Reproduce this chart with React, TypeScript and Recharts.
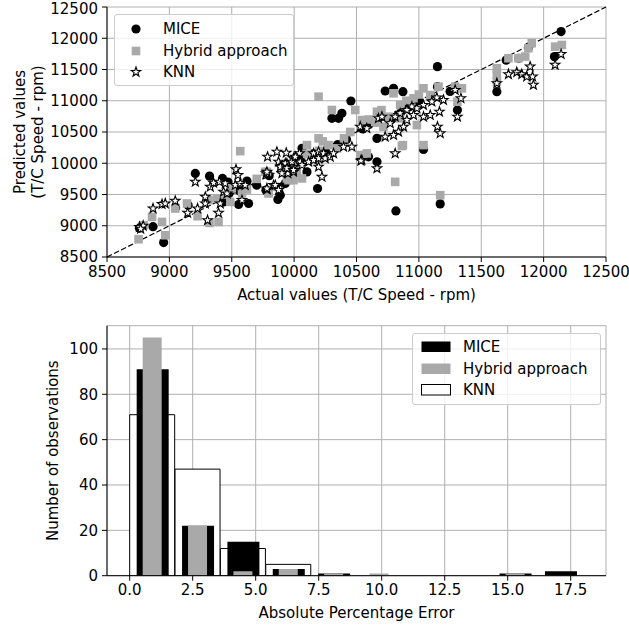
import React from "react";
import {
  ScatterChart,
  Scatter,
  BarChart,
  Bar,
  XAxis,
  YAxis,
  CartesianGrid,
  ReferenceLine,
  Legend,
  Label,
} from "recharts";

const FONT = "'DejaVu Sans', sans-serif";
const GRID = "#b0b0b0";
const GRAY = "#a9a9a9";

const seriesNames = ["MICE", "Hybrid approach", "KNN"];

// scatter points: [actual, predicted] (T/C speed, rpm)
const micePoints = [
  [8760, 8960], [8869, 8985], [8954, 8731], [9050, 9290], [9150, 9330],
  [9208, 9837], [9322, 9794], [9426, 9757], [9470, 9700], [9622, 9714],
  [9434, 9382], [9480, 9520], [9555, 9340], [9635, 9356], [9560, 9560],
  [9774, 9569], [9870, 9420], [9889, 9489], [9929, 9677], [9960, 9760],
  [9800, 9800], [9700, 9650], [9900, 9950], [10000, 9950], [10050, 10050],
  [10063, 10238], [10103, 9862], [10188, 9596], [10150, 10150], [10250, 10200],
  [10303, 10719], [10356, 10719], [10383, 10799], [10455, 10996], [10350, 10300],
  [10420, 10380], [10550, 10550], [10596, 10103], [10664, 10023], [10664, 10398],
  [10600, 10620], [10700, 10750], [10730, 11156], [10797, 11199], [10872, 11145],
  [10780, 10700], [10850, 10800], [10920, 10900], [11000, 11000], [11037, 10222],
  [11100, 11050], [11149, 11546], [11149, 11225], [11250, 11150], [11309, 10852],
  [10816, 9237], [11171, 9350], [11625, 11145], [11700, 11650], [11800, 11680],
  [11880, 11860], [12087, 11706], [12140, 12107],
];

const hybridPoints = [
  [8753, 8784], [8793, 9008], [8861, 9141], [8941, 9061], [8967, 8848],
  [9047, 9276], [9141, 9356], [9226, 9152], [9322, 9045], [9394, 9061],
  [9314, 9409], [9381, 9436], [9488, 9382], [9568, 10194], [9582, 9516],
  [9622, 9580], [9500, 9600], [9450, 9500], [9768, 9862], [9795, 9516],
  [9849, 9622], [9942, 9757], [9995, 9729], [10063, 9757], [9782, 9862],
  [9955, 9729], [9795, 9542], [9995, 10050], [10143, 10103], [10022, 9862],
  [10196, 11065], [10303, 10852], [10490, 10852], [10664, 10824], [10543, 10691],
  [10196, 10398], [10276, 10290], [10103, 10290], [10343, 10238], [10530, 10130],
  [10583, 10157], [10200, 10200], [10230, 10350], [10400, 10400], [10450, 10500],
  [10600, 10700], [10650, 10650], [10700, 10850], [10797, 11119], [11037, 11199],
  [11157, 11225], [11291, 11225], [11345, 11199], [10850, 10932], [10984, 10611],
  [10716, 10584], [11309, 10985], [10872, 10290], [11037, 10290], [10864, 10275],
  [10551, 10130], [10810, 9702], [11171, 9489], [10957, 11039], [11091, 11092],
  [10756, 10744], [10850, 10719], [10900, 11000], [11000, 11100], [11625, 11520],
  [11625, 11413], [11625, 11305], [11718, 11680], [11798, 11680], [11852, 11706],
  [11878, 11840], [11905, 11920], [12092, 11866], [12146, 11893], [9900, 9900],
  [10000, 10000], [10100, 10150], [9700, 9750],
];

const knnPoints = [
  [8760, 8980], [8790, 9000], [8770, 8950], [8869, 9276], [8941, 9345],
  [8967, 9356], [9047, 9398], [9146, 9205], [9208, 9702], [9226, 9276],
  [9288, 9356], [9288, 9462], [9306, 9088], [9328, 9622], [9354, 9686],
  [9394, 9205], [9408, 9356], [9402, 9702], [9434, 9542], [9448, 9677],
  [9462, 9516], [9534, 9901], [9550, 9810], [9528, 9649], [9568, 9677],
  [9582, 9409], [9608, 9649], [9787, 10103], [9862, 10183], [9776, 9837],
  [9782, 9580], [9835, 9649], [9889, 9596], [9937, 10167], [9942, 9997],
  [9950, 9837], [9995, 10077], [9995, 9943], [9995, 9862], [10043, 10157],
  [9875, 10023], [9929, 9997], [9982, 10023], [10009, 10103], [9889, 9943],
  [9942, 9917], [9995, 9890], [9902, 9837], [10049, 10023], [10063, 9970],
  [10116, 10023], [10156, 10157], [10196, 10183], [10236, 10157], [10156, 10050],
  [10196, 10077], [10249, 10077], [10289, 10103], [10316, 10157], [10196, 9943],
  [10223, 9782], [10396, 10263], [10463, 10263], [10543, 10050], [10664, 9917],
  [10676, 10719], [10530, 10584], [10583, 10558], [9782, 9862], [9782, 9596],
  [9849, 9649], [9875, 9569], [11291, 11172], [11337, 11039], [11309, 10744],
  [11197, 11012], [11144, 11049], [11104, 10985], [11165, 10824], [11037, 10932],
  [10984, 10879], [10944, 10905], [10904, 10852], [10850, 10799], [10810, 10744],
  [10704, 10744], [10957, 10771], [11037, 10744], [11091, 10771], [10904, 10691],
  [10770, 10639], [10877, 10584], [10837, 10504], [10797, 10451], [10730, 10424],
  [11149, 10584], [11171, 10478], [10810, 10157], [10535, 10040], [11625, 11280],
  [11718, 11424], [11785, 11456], [11825, 11424], [11865, 11386], [11892, 11546],
  [11911, 11386], [11918, 11253], [12092, 11573], [12140, 11745],
];

const scatterTicks = [8500, 9000, 9500, 10000, 10500, 11000, 11500, 12000, 12500];

// histogram of absolute percentage error, bins of 1.8
const binCenters = [0.9, 2.7, 4.5, 6.3, 8.1, 9.9, 11.7, 13.5, 15.3, 17.1];
const miceCounts = [91, 22, 15, 3, 1, 0, 0, 0, 1, 2];
const hybridCounts = [105, 22, 2, 3, 1, 1, 0, 0, 1, 0];
const knnCounts = [71, 47, 12, 5, 0, 0, 0, 0, 0, 0];
const errTicks = [0, 2.5, 5, 7.5, 10, 12.5, 15, 17.5];
const countTicks = [0, 20, 40, 60, 80, 100];

const toXY = (pts: number[][]) => pts.map(([x, y]) => ({ x, y }));
const histData = binCenters.map((bin, i) => ({
  bin,
  mice: miceCounts[i],
  hybrid: hybridCounts[i],
  knn: knnCounts[i],
}));

const tickStyle = { fill: "#000", fontSize: 15, fontFamily: FONT };
const axisLine = { stroke: "#000", strokeWidth: 1 };

function starPath(cx: number, cy: number, R: number, r: number) {
  let d = "";
  for (let i = 0; i < 10; i++) {
    const rad = i % 2 === 0 ? R : r;
    const a = -Math.PI / 2 + (i * Math.PI) / 5;
    d += (i === 0 ? "M" : "L") + (cx + rad * Math.cos(a)).toFixed(2) + "," + (cy + rad * Math.sin(a)).toFixed(2);
  }
  return d + "Z";
}

const CircleDot = (p: any) => <circle cx={p.cx} cy={p.cy} r={4.6} fill="#000" />;
const SquareDot = (p: any) => (
  <rect x={p.cx - 4.3} y={p.cy - 4.3} width={8.6} height={8.6} fill={GRAY} />
);
const StarDot = (p: any) => (
  <path d={starPath(p.cx, p.cy, 5, 2)} fill="#fff" stroke="#000" strokeWidth={1.1} />
);

const markers = [CircleDot, SquareDot, StarDot];

const legendBox = {
  boxSizing: "border-box" as const,
  border: "1px solid #cccccc",
  borderRadius: 3,
  background: "rgba(255,255,255,0.8)",
  fontFamily: FONT,
  fontSize: 15,
  color: "#000",
  paddingTop: 3,
};

const ScatterLegend = () => (
  <div style={{ ...legendBox, width: 180, height: 72 }}>
    {seriesNames.map((name, i) => {
      const M = markers[i];
      return (
        <div key={name} style={{ display: "flex", alignItems: "center", height: 21.7 }}>
          <svg width={48} height={20} style={{ display: "block" }}>
            <M cx={21} cy={10} />
          </svg>
          <span>{name}</span>
        </div>
      );
    })}
  </div>
);

const patchStyles = [
  { fill: "#000" },
  { fill: GRAY },
  { fill: "#fff", stroke: "#000", strokeWidth: 1 },
];

const HistLegend = () => (
  <div style={{ ...legendBox, width: 189, height: 72, paddingTop: 2 }}>
    {seriesNames.map((name, i) => (
      <div key={name} style={{ display: "flex", alignItems: "center", height: 21.7 }}>
        <svg width={50} height={14} style={{ display: "block" }}>
          <rect x={8.5} y={1.5} width={29} height={10.5} {...patchStyles[i]} />
        </svg>
        <span>{name}</span>
      </div>
    ))}
  </div>
);

const XLabel = (text: string) => (props: any) => {
  const vb = props.viewBox;
  return (
    <text x={vb.x + vb.width / 2} y={vb.y + 42.5} textAnchor="middle" fill="#000" fontSize={15} fontFamily={FONT}>
      {text}
    </text>
  );
};

const TopYLabel = (props: any) => {
  const vb = props.viewBox;
  const cy = vb.y + vb.height / 2;
  const x1 = vb.x + 24.5;
  const x2 = vb.x + 42.5;
  return (
    <g fill="#000" fontSize={15} fontFamily={FONT}>
      <text transform={`rotate(-90 ${x1} ${cy})`} x={x1} y={cy} textAnchor="middle">
        Predicted values
      </text>
      <text transform={`rotate(-90 ${x2} ${cy})`} x={x2} y={cy} textAnchor="middle">
        (T/C Speed - rpm)
      </text>
    </g>
  );
};

const BottomYLabel = (props: any) => {
  const vb = props.viewBox;
  const cy = vb.y + vb.height / 2;
  const x = vb.x + 58;
  return (
    <text transform={`rotate(-90 ${x} ${cy})`} x={x} y={cy} textAnchor="middle" fill="#000" fontSize={15} fontFamily={FONT}>
      Number of observations
    </text>
  );
};

export default function App() {
  return (
    <div style={{ position: "absolute", left: 0, top: 0, width: 629, height: 629, background: "#fff" }}>
      <div style={{ position: "absolute", left: 0, top: 0 }}>
        <ScatterChart width={629} height={310} margin={{ top: 7, right: 23, bottom: 0, left: 0 }}>
          <CartesianGrid stroke={GRID} strokeWidth={1} />
          <XAxis
            type="number"
            dataKey="x"
            domain={[8500, 12500]}
            allowDataOverflow
            ticks={scatterTicks}
            height={53}
            tick={tickStyle}
            tickSize={5}
            tickMargin={4}
            tickLine={axisLine}
            axisLine={axisLine}
          >
            <Label content={XLabel("Actual values (T/C Speed - rpm)")} />
          </XAxis>
          <YAxis
            type="number"
            dataKey="y"
            domain={[8500, 12500]}
            allowDataOverflow
            ticks={scatterTicks}
            width={107}
            tick={tickStyle}
            tickSize={5}
            tickMargin={4}
            tickLine={axisLine}
            axisLine={axisLine}
          >
            <Label content={TopYLabel} />
          </YAxis>
          <XAxis xAxisId="frame" orientation="top" type="number" domain={[8500, 12500]} height={0} tick={false} tickLine={false} axisLine={axisLine} />
          <YAxis yAxisId="frame" orientation="right" type="number" domain={[8500, 12500]} width={0} tick={false} tickLine={false} axisLine={axisLine} />
          <ReferenceLine
            segment={[{ x: 8500, y: 8500 }, { x: 12500, y: 12500 }]}
            stroke="#000"
            strokeWidth={1.2}
            strokeDasharray="5.5 2.4"
          />
          <Scatter name="MICE" data={toXY(micePoints)} shape={CircleDot} isAnimationActive={false} />
          <Scatter name="Hybrid approach" data={toXY(hybridPoints)} shape={SquareDot} isAnimationActive={false} />
          <Scatter name="KNN" data={toXY(knnPoints)} shape={StarDot} isAnimationActive={false} />
          <Legend
            layout="vertical"
            align="center"
            verticalAlign="middle"
            content={ScatterLegend}
            wrapperStyle={{ top: 14, left: 114, width: 180, height: 72 }}
          />
        </ScatterChart>
      </div>
      <div style={{ position: "absolute", left: 0, top: 310 }}>
        <BarChart
          width={629}
          height={319}
          data={histData}
          margin={{ top: 15.7, right: 23, bottom: 0, left: 0 }}
          barGap={0}
          barCategoryGap={0}
        >
          <CartesianGrid xAxisId="knn" stroke={GRID} strokeWidth={1} />
          <XAxis
            xAxisId="knn"
            type="number"
            dataKey="bin"
            domain={[-0.9, 18.9]}
            allowDataOverflow
            ticks={errTicks}
            tickFormatter={(v: number) => v.toFixed(1)}
            height={53.3}
            tick={tickStyle}
            tickSize={5}
            tickMargin={4}
            tickLine={axisLine}
            axisLine={axisLine}
          >
            <Label content={XLabel("Absolute Percentage Error")} />
          </XAxis>
          <XAxis xAxisId="mice" orientation="top" type="number" dataKey="bin" domain={[-0.9, 18.9]} allowDataOverflow height={0} hide />
          <XAxis xAxisId="hybrid" orientation="top" type="number" dataKey="bin" domain={[-0.9, 18.9]} allowDataOverflow height={0} hide />
          <XAxis xAxisId="frame" orientation="top" type="number" domain={[-0.9, 18.9]} height={0} tick={false} tickLine={false} axisLine={axisLine} />
          <YAxis
            type="number"
            domain={[0, 110.25]}
            allowDataOverflow
            ticks={countTicks}
            width={107}
            tick={tickStyle}
            tickSize={5}
            tickMargin={4}
            tickLine={axisLine}
            axisLine={axisLine}
          >
            <Label content={BottomYLabel} />
          </YAxis>
          <YAxis yAxisId="frame" orientation="right" type="number" domain={[0, 110.25]} width={0} tick={false} tickLine={false} axisLine={axisLine} />
          <Bar xAxisId="knn" dataKey="knn" name="KNN" fill="#fff" stroke="#000" strokeWidth={1} barSize={45} isAnimationActive={false} />
          <Bar xAxisId="mice" dataKey="mice" name="MICE" fill="#000" barSize={32} isAnimationActive={false} />
          <Bar xAxisId="hybrid" dataKey="hybrid" name="Hybrid approach" fill={GRAY} barSize={19} isAnimationActive={false} />
          <Legend
            layout="vertical"
            align="center"
            verticalAlign="middle"
            content={HistLegend}
            wrapperStyle={{ top: 23, left: 412, width: 189, height: 72 }}
          />
        </BarChart>
      </div>
    </div>
  );
}
